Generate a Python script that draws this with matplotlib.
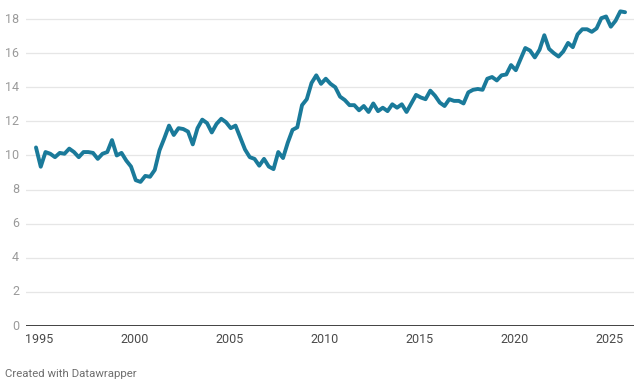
import matplotlib
matplotlib.use("Agg")
import matplotlib.pyplot as plt
import numpy as np

plt.rcParams['font.family'] = ['Roboto', 'DejaVu Sans']

start_year = 1995
values = [
    10.47, 9.34, 10.2, 10.1, 9.9, 10.15, 10.1, 10.4, 10.2, 9.9,
    10.2, 10.2, 10.15, 9.8, 10.1, 10.2, 10.9, 10.0, 10.15, 9.7,
    9.35, 8.55, 8.45, 8.8, 8.75, 9.15, 10.3, 11.0, 11.75, 11.2,
    11.6, 11.55, 11.4, 10.65, 11.6, 12.1, 11.9, 11.35, 11.85, 12.15,
    11.95, 11.6, 11.75, 11.05, 10.35, 9.9, 9.8, 9.4, 9.8, 9.35,
    9.2, 10.2, 9.85, 10.75, 11.5, 11.65, 12.95, 13.3, 14.25, 14.7,
    14.2, 14.5, 14.2, 14.0, 13.45, 13.25, 12.95, 12.95, 12.65, 12.9,
    12.55, 13.05, 12.6, 12.8, 12.6, 13.0, 12.8, 13.0, 12.55, 13.05,
    13.55, 13.4, 13.3, 13.8, 13.5, 13.1, 12.9, 13.3, 13.2, 13.2,
    13.05, 13.7, 13.85, 13.9, 13.85, 14.5, 14.6, 14.4, 14.7, 14.75,
    15.3, 15.0, 15.65, 16.3, 16.15, 15.75, 16.2, 17.05, 16.25, 16.0,
    15.8, 16.1, 16.6, 16.35, 17.1, 17.4, 17.4, 17.25, 17.45, 18.05,
    18.15, 17.55, 17.9, 18.45, 18.4,
]
dates = [start_year + 0.25 * i for i in range(len(values))]
x_ticks = [1995, 2000, 2005, 2010, 2015, 2020, 2025]
y_ticks = [0, 2, 4, 6, 8, 10, 12, 14, 16, 18]

W, H = 640, 387
fig = plt.figure(figsize=(W / 100, H / 100), dpi=100)
left_px, right_px = 26, 634
bottom_px, top_px = 326, 8.8
ax = fig.add_axes([left_px / W, (H - bottom_px) / H,
                   (right_px - left_px) / W, (bottom_px - top_px) / H])

x_min, x_max = 1994.474, 2026.47
ax.set_xlim(x_min, x_max)
ax.set_ylim(0, 18.6)

for y in y_ticks[1:]:
    ax.axhline(y, color='#e6e6e6', lw=0.9, zorder=1)
ax.axhline(0, color='#333333', lw=1.3, zorder=3)

ax.plot(dates, values, color='#1a7a9a', lw=2.8, solid_joinstyle='round',
        solid_capstyle='round', zorder=4, clip_on=False)

for s in ax.spines.values():
    s.set_visible(False)
ax.set_xticks([])
ax.set_yticks([])

# y labels (7 px left of the plot area)
px_per_year = (right_px - left_px) / (x_max - x_min)
for y in y_ticks:
    ax.text(x_min - 7 / px_per_year, y, str(y), ha='right', va='center',
            fontsize=9, color='#9a9a9a', clip_on=False)

# x labels
for yr in x_ticks:
    ax.text(yr + 0.18, -0.8, str(yr), ha='center', va='center',
            fontsize=9, color='#4a4a4a', clip_on=False)

fig.text(5 / W, 1 - 374 / H, 'Created with Datawrapper', ha='left', va='center',
         fontsize=8.2, color='#6e6e6e')

fig.savefig('out.png', dpi=100, facecolor='white')
